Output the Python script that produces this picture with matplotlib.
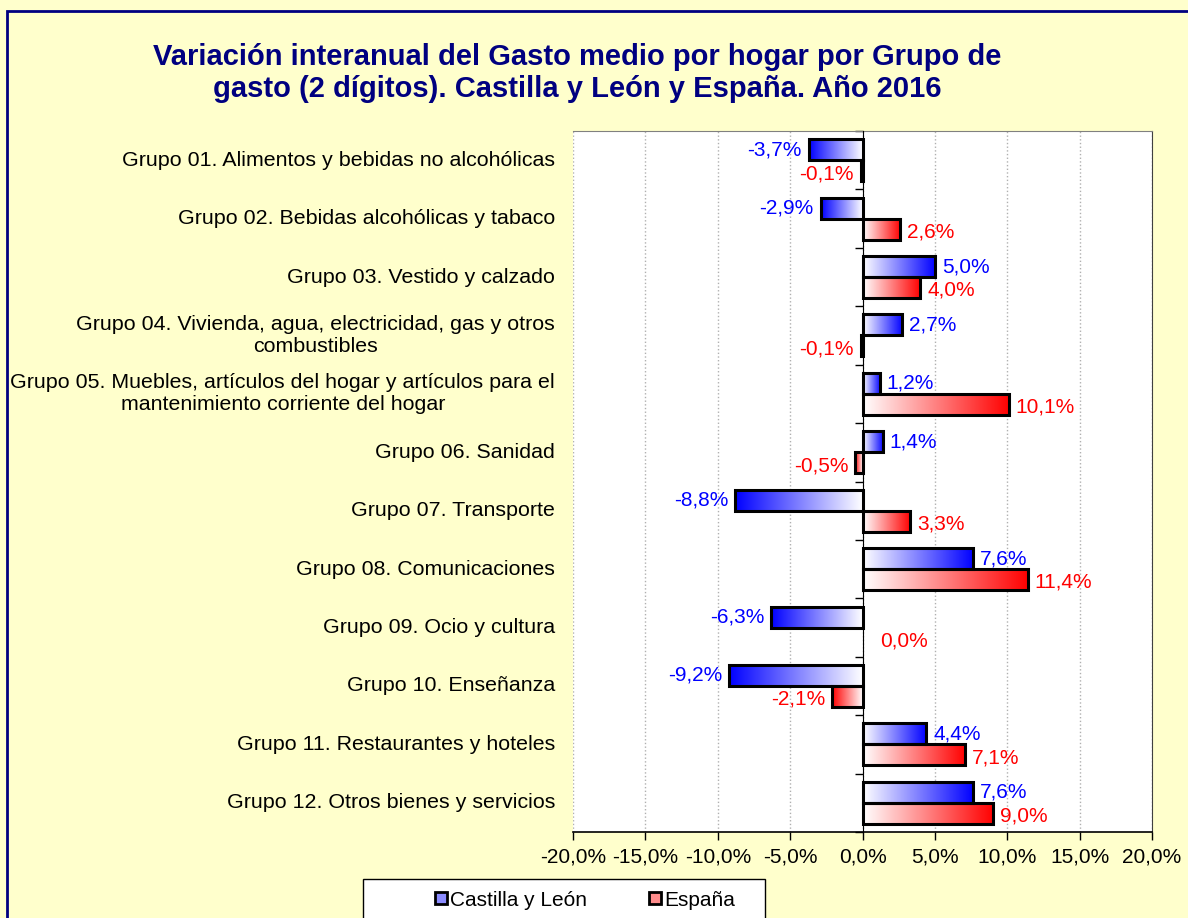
import matplotlib
matplotlib.use('Agg')
import matplotlib.pyplot as plt
import numpy as np
from matplotlib.colors import LinearSegmentedColormap
from matplotlib.patches import Rectangle, Patch
from matplotlib.ticker import FuncFormatter

plt.rcParams['font.family'] = ['Liberation Sans', 'DejaVu Sans']

grupos = [
    'Grupo 01. Alimentos y bebidas no alcohólicas',
    'Grupo 02. Bebidas alcohólicas y tabaco',
    'Grupo 03. Vestido y calzado',
    'Grupo 04. Vivienda, agua, electricidad, gas y otros\ncombustibles',
    'Grupo 05. Muebles, artículos del hogar y artículos para el\nmantenimiento corriente del hogar',
    'Grupo 06. Sanidad',
    'Grupo 07. Transporte',
    'Grupo 08. Comunicaciones',
    'Grupo 09. Ocio y cultura',
    'Grupo 10. Enseñanza',
    'Grupo 11. Restaurantes y hoteles',
    'Grupo 12. Otros bienes y servicios',
]
cyl = [-3.7, -2.9, 5.0, 2.7, 1.2, 1.4, -8.8, 7.6, -6.3, -9.2, 4.4, 7.6]
espana = [-0.1, 2.6, 4.0, -0.1, 10.1, -0.5, 3.3, 11.4, 0.0, -2.1, 7.1, 9.0]
series = ['Castilla y León', 'España']

bg = '#FFFFCC'
navy = '#000080'
blue = '#0000FF'
red = '#FF0000'
fs = 15

fig = plt.figure(figsize=(11.88, 9.18), dpi=100, facecolor=bg)

# marco azul marino
fig.patches.append(Rectangle((7 / 1188, -0.02), 1.2, 1 - 11 / 918 + 0.02,
                             transform=fig.transFigure, fill=False,
                             edgecolor=navy, linewidth=2))

fig.text(577 / 1188, 1 - 73 / 918,
         'Variación interanual del Gasto medio por hogar por Grupo de\n'
         'gasto (2 dígitos). Castilla y León y España. Año 2016',
         ha='center', va='center', fontsize=21, fontweight='bold',
         color=navy, linespacing=1.22)

ax = fig.add_axes([573 / 1188, 86 / 918, 579 / 1188, 701 / 918])
ax.set_facecolor('white')

cmap_b = LinearSegmentedColormap.from_list('b', ['white', blue])
cmap_r = LinearSegmentedColormap.from_list('r', ['white', red])
grad = np.linspace(0, 1, 256).reshape(1, -1)

h = 0.36
for i in range(len(grupos)):
    for val, off, cmap, col, dy in [(cyl[i], -h / 2, cmap_b, blue, 0),
                                    (espana[i], h / 2, cmap_r, red, -2)]:
        yc = i + off
        y0, y1 = yc - h / 2, yc + h / 2
        g = grad if val >= 0 else grad[:, ::-1]
        if val != 0:
            ax.imshow(g, cmap=cmap, aspect='auto', zorder=2,
                      extent=(min(0, val), max(0, val), y1, y0),
                      interpolation='bilinear')
            ax.add_patch(Rectangle((min(0, val), y0), abs(val), h, fill=False,
                                   edgecolor='black', linewidth=2.2, zorder=3))
        txt = f'{val:.1f}%'.replace('.', ',')
        if val < 0:
            ax.annotate(txt, (val, yc), xytext=(-5, dy), textcoords='offset points',
                        ha='right', va='center', color=col, fontsize=fs)
        else:
            dx = 5 if val > 0 else 13
            ax.annotate(txt, (val, yc), xytext=(dx, dy), textcoords='offset points',
                        ha='left', va='center', color=col, fontsize=fs)

ax.set_xlim(-20, 20)
ax.set_ylim(len(grupos) - 0.5, -0.5)

ax.set_xticks(np.arange(-20, 21, 5))
ax.xaxis.set_major_formatter(FuncFormatter(lambda v, p: f'{v:.1f}%'.replace('.', ',')))
ax.tick_params(axis='x', labelsize=fs, length=6, width=1, direction='out', pad=5)
ax.grid(axis='x', color='#B0B0B0', linestyle=':', linewidth=1, zorder=0)
ax.set_axisbelow(True)

# eje de categorías en el cero
ax.spines['left'].set_position(('data', 0))
ax.spines['left'].set_zorder(4)
ax.set_yticks(np.arange(-0.5, len(grupos), 1))
ax.set_yticklabels([])
ax.tick_params(axis='y', length=6, width=1, direction='out')
ax.spines['top'].set_color('#808080')
ax.spines['right'].set_color('#404040')
ax.spines['bottom'].set_linewidth(1.2)

for i, g in enumerate(grupos):
    ax.text(-0.031, i, g, transform=ax.get_yaxis_transform(),
            ha='right', va='center', multialignment='center', fontsize=15.4)

# leyenda
fig.patches.append(Rectangle((363 / 1188, -0.02), 402 / 1188, 1 - 879 / 918 + 0.02,
                             transform=fig.transFigure, facecolor='white',
                             edgecolor='black', linewidth=1))
handles = [Patch(facecolor='#8C8CFF', edgecolor='black', linewidth=2),
           Patch(facecolor='#FF8C8C', edgecolor='black', linewidth=2)]
fig.legend(handles, series, loc='center', bbox_to_anchor=(585 / 1188, 1 - 900 / 918),
           ncol=2, fontsize=fs, frameon=False, handlelength=0.55, handleheight=0.55,
           handletextpad=0.15, columnspacing=3.0, borderaxespad=0)

fig.savefig('out.png', dpi=100, facecolor=bg)
